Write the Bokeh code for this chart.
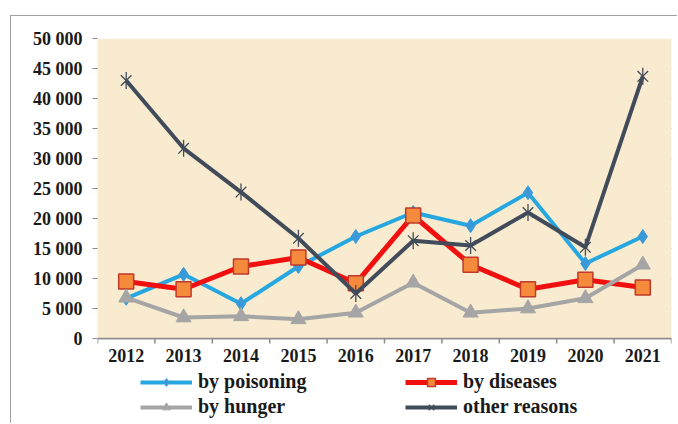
import math
from bokeh.plotting import figure
from bokeh.models import Range1d, FixedTicker, Legend, LegendItem, BoxAnnotation, Span
from bokeh.core.properties import value
from bokeh.embed import file_html
from bokeh.resources import INLINE

years = [2012, 2013, 2014, 2015, 2016, 2017, 2018, 2019, 2020, 2021]
year_labels = ["2012", "2013", "2014", "2015", "2016", "2017", "2018", "2019", "2020", "2021"]
by_poisoning = [6700, 10700, 5800, 12000, 17000, 21000, 18800, 24300, 12500, 17000]
by_diseases = [9500, 8200, 12000, 13500, 9200, 20500, 12300, 8200, 9800, 8500]
by_hunger = [6800, 3500, 3700, 3200, 4300, 9300, 4300, 5000, 6700, 12300]
other_reasons = [43000, 31700, 24400, 16700, 7500, 16300, 15500, 21000, 15200, 43700]
y_ticks = [0, 5000, 10000, 15000, 20000, 25000, 30000, 35000, 40000, 45000, 50000]
y_labels = ["0", "5 000", "10 000", "15 000", "20 000", "25 000", "30 000", "35 000", "40 000", "45 000", "50 000"]

FONT = "'Liberation Serif', serif"
Y_MAX = 50000
PLOT_PX = 300      # pixel height of 0..50000
BELOW_PX = 86      # extra frame room below 0 for x labels and legend

p = figure(width=667, height=408, output_backend="svg", toolbar_location=None,
           x_range=Range1d(years[0] - 0.5, years[-1] + 0.5),
           y_range=Range1d(-Y_MAX * BELOW_PX / PLOT_PX, Y_MAX),
           x_axis_location=None,
           min_border_left=86, min_border_top=22, min_border_right=7, min_border_bottom=0)
p.styles = {"margin-left": "10px", "margin-top": "15px",
            "border-left": "1px solid #a0a0a0", "border-top": "1px solid #a0a0a0"}
p.outline_line_color = None
p.background_fill_color = "white"
p.border_fill_color = "white"

# plot area background
p.add_layout(BoxAnnotation(bottom=0, top=Y_MAX, fill_color="#f8ebd0", fill_alpha=1,
                           line_color=None, level="underlay"))

# y axis
p.yaxis.ticker = FixedTicker(ticks=y_ticks)
p.yaxis.major_label_overrides = dict(zip(y_ticks, y_labels))
p.yaxis.axis_line_color = None
p.yaxis.major_tick_line_color = "#8c8c8c"
p.yaxis.major_tick_out = 5
p.yaxis.major_tick_in = 0
p.yaxis.minor_tick_line_color = None
p.yaxis.major_label_standoff = 10
p.yaxis.major_label_text_font = FONT
p.yaxis.major_label_text_font_style = "bold"
p.yaxis.major_label_text_font_size = "18px"
p.yaxis.major_label_text_color = "#1a1a1a"
p.ygrid.ticker = FixedTicker(ticks=y_ticks)
p.ygrid.grid_line_color = "#8c8c8c"
p.ygrid.grid_line_width = 1.5
p.xgrid.grid_line_color = None

# x axis drawn at y = 0
p.add_layout(Span(location=0, dimension="width", line_color="#8c8c8c", line_width=1.5))
bounds = [y - 0.5 for y in years] + [years[-1] + 0.5]
p.ray(x=bounds, y=[0] * len(bounds), length=5, length_units="screen", angle=-math.pi / 2,
      line_color="#8c8c8c", line_width=1.5)
p.text(x=years, y=[0] * len(years), text=year_labels, y_offset=10,
       text_align="center", text_baseline="top",
       text_font=value(FONT), text_font_style="bold", text_font_size="18px", text_color="#1a1a1a")

# series (Excel order)
l1 = p.line(years, by_poisoning, line_color="#27a7e0", line_width=4)
m1 = p.scatter(years, by_poisoning, marker="diamond", size=14, fill_color="#3a9ad9", line_color="#3a9ad9")
l2 = p.line(years, by_diseases, line_color="#f01010", line_width=5)
m2 = p.scatter(years, by_diseases, marker="square", size=15, fill_color="#f58a3c", line_color="#c0392b", line_width=1.5)
l3 = p.line(years, by_hunger, line_color="#a5a5a5", line_width=4)
m3 = p.scatter(years, by_hunger, marker="triangle", size=15, fill_color="#a5a5a5", line_color="#a5a5a5")
l4 = p.line(years, other_reasons, line_color="#414b5a", line_width=4)
m4a = p.scatter(years, other_reasons, marker="x", size=15, line_color="#414b5a", line_width=1.3)
m4b = p.scatter(years, other_reasons, marker="dash", angle=math.pi / 2, size=17, line_color="#414b5a", line_width=1.3)

def make_legend(items, loc):
    return Legend(items=items, location=loc, orientation="vertical",
                  glyph_width=52, glyph_height=20, label_height=20, spacing=2,
                  padding=0, margin=0, label_standoff=6,
                  border_line_color=None, background_fill_alpha=0,
                  label_text_font=FONT, label_text_font_style="bold",
                  label_text_font_size="20px", label_text_color="#1a1a1a")

p.add_layout(make_legend([LegendItem(label="by poisoning", renderers=[l1, m1]),
                          LegendItem(label="by hunger", renderers=[l3, m3])], (43, 6)), "center")
p.add_layout(make_legend([LegendItem(label="by diseases", renderers=[l2, m2]),
                          LegendItem(label="other reasons", renderers=[l4, m4a, m4b])], (308, 6)), "center")

open("out.html", "w").write(file_html(p, INLINE))
